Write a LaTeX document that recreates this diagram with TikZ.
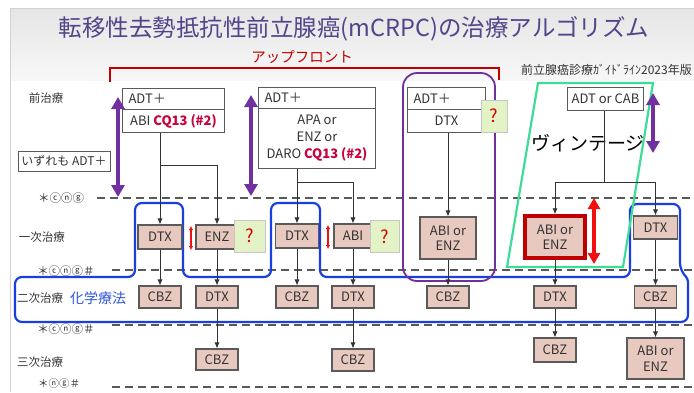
\documentclass[tikz,border=0pt]{standalone}
\usepackage{fontspec}
\setmainfont{Noto Sans CJK JP}
\newfontfamily\circfont{Noto Sans CJK JP}
\usetikzlibrary{arrows.meta,shapes.geometric}
\definecolor{titlec}{HTML}{54458A}
\definecolor{upred}{HTML}{C00000}
\definecolor{cqred}{HTML}{C8003C}
\definecolor{drugfill}{HTML}{E8C9C0}
\definecolor{boxline}{HTML}{5A5A5A}
\definecolor{purp}{HTML}{7030A0}
\definecolor{bluel}{HTML}{1A3FE0}
\definecolor{greenl}{HTML}{3DDC97}
\definecolor{qfill}{HTML}{E3F3C6}
\definecolor{txt}{HTML}{333333}
\definecolor{chemblue}{HTML}{2F55E0}
\definecolor{bigred}{HTML}{F01010}
\newcommand\fsz[2]{\fontsize{#1}{#2}\selectfont}
\begin{document}
\begin{tikzpicture}[x=1pt,y=-1pt,
  drug/.style={draw=boxline, fill=drugfill, line width=1.1pt, inner sep=0pt, minimum width=42pt, minimum height=22pt, font=\fsz{13}{15.5}, text=txt, align=center},
  prebox/.style={draw=boxline, fill=white, line width=1pt, inner sep=0pt, font=\fsz{13}{17}, text=txt, align=center},
  qbox/.style={draw=gray!45, fill=qfill, line width=0.6pt, minimum width=29pt, minimum height=32pt, inner sep=0pt, font=\fsz{18}{20}, text=red!85!black},
  arr/.style={-{Latex[length=6pt,width=5pt]}, line width=0.8pt, draw=black!80},
  conn/.style={line width=0.8pt, draw=black!80},
  dline/.style={draw=black!65, line width=2pt, dash pattern=on 8pt off 5pt},
  lbl/.style={font=\fsz{11.5}{13}, text=txt, inner sep=0pt},
  slbl/.style={font=\fsz{11.5}{13}, text=txt, inner sep=0pt},
  pdarrow/.style={{Triangle[length=12pt,width=13pt]}-{Triangle[length=12pt,width=13pt]}, line width=4.5pt, draw=purp},
  rdsmall/.style={{Latex[length=4pt,width=4.5pt]}-{Latex[length=4pt,width=4.5pt]}, line width=1.6pt, draw=bigred},
]
\useasboundingbox (0,0) rectangle (694,392);
% background
\fill[white] (0,0) rectangle (694,392);
\shade[top color=gray!20, bottom color=gray!6] (10,8) rectangle (694,80);
\draw[gray!35, line width=0.8pt] (10,392) -- (10,8) -- (694,8);

% title
\node[font=\fsz{23.5}{26}, text=titlec, inner sep=0pt] (title) at (354,29) {転移性去勢抵抗性前立腺癌(mCRPC)の治療アルゴリズム};
\node[font=\fsz{14.5}{16}, text=upred, inner sep=0pt] (upfront) at (302,57) {アップフロント};
\node[font=\fsz{12}{13}, text=txt, inner sep=0pt, anchor=east] (guide) at (692,70) {前立腺癌診療ｶﾞｲﾄﾞﾗｲﾝ2023年版};
\draw[upred, line width=2.5pt] (110,82) -- (110,68) -- (499,68) -- (499,80);

% dashed lines
\draw[dline] (97,198) -- (694,198);
\draw[dline] (112,270) -- (694,270);
\draw[dline] (112,325) -- (694,325);
\draw[dline] (112,387) -- (694,387);

% row labels
\node[lbl] (l0) at (46,98) {前治療};
\node[draw=boxline, fill=white, line width=0.8pt, minimum width=92pt, minimum height=20pt, inner sep=0pt, font=\fsz{12}{14}, text=txt] (allADT) at (64,161) {いずれも ADT＋};
\node[slbl] (s1) at (61,198) {＊{\circfont ⓒⓝⓖ}};
\node[lbl] (l1) at (42,237) {一次治療};
\node[slbl] (s2) at (66,271) {＊{\circfont ⓒⓝⓖ}＃};
\node[lbl] (l2) at (40,298) {二次治療};
\node[font=\fsz{14}{16}, text=chemblue, inner sep=0pt] (chem) at (98,298) {化学療法};
\node[slbl] (s3) at (66,329) {＊{\circfont ⓒⓝⓖ}＃};
\node[lbl] (l3) at (40,362) {三次治療};
\node[slbl, font=\fsz{10.5}{11}] (s4) at (59,384) {＊{\circfont ⓝⓖ}＃};

% blue outline
\draw[bluel, line width=2.2pt, rounded corners=7pt]
  (100,322) -- (15,322) -- (15,277) -- (135,277) -- (135,203) -- (183,203) -- (183,277)
  -- (271,277) -- (271,203) -- (320,203) -- (320,277) -- (630,277) -- (630,204) -- (680,204)
  -- (680,270) [rounded corners=3pt] -- (688,279) [rounded corners=7pt] -- (688,322) -- cycle;

% purple rounded box and green parallelogram
\draw[purp, line width=1.8pt, rounded corners=14pt] (403,73) rectangle (495,281);
\draw[greenl, line width=2.2pt] (538,83) -- (653,83) -- (623,267) -- (507,267) -- cycle;

% pre-treatment boxes
\node[prebox, text width=90pt, align=left, inner xsep=6pt, minimum height=21pt, anchor=north west] (p1a) at (122,88) {ADT＋};
\node[prebox, minimum width=102pt, minimum height=23pt, anchor=north west] (p1b) at (122,109) {ABI {\color{cqred}\bfseries CQ13 (\#2)}};
\node[prebox, text width=105pt, align=left, inner xsep=6pt, minimum height=21pt, anchor=north west] (p2a) at (258,87) {ADT＋};
\node[prebox, minimum width=117pt, minimum height=60pt, anchor=north west] (p2b) at (258,108) {APA or\\ENZ or\\DARO {\color{cqred}\bfseries CQ13 (\#2)}};
\node[prebox, text width=66pt, align=left, inner xsep=6pt, minimum height=22pt, anchor=north west] (p3a) at (407,87) {ADT＋};
\node[prebox, minimum width=78pt, minimum height=23pt, anchor=north west] (p3b) at (407,109) {DTX};
\node[prebox, minimum width=76pt, minimum height=23pt, anchor=north west] (p4) at (567,87) {ADT or CAB};
\node[qbox, minimum width=26pt] (q3) at (494,116) {?};

\node[font=\fsz{19}{21}, text=black, inner sep=0pt] (vint) at (588,143) {ヴィンテージ};

% row 1
\node[drug, minimum width=44pt, minimum height=24pt] (d11) at (160,237) {DTX};
\node[drug, minimum height=24pt] (e11) at (217,237) {ENZ};
\node[qbox, minimum width=31pt] (q1) at (250,236) {?};
\node[drug, minimum width=43pt, minimum height=24pt] (d12) at (297,236) {DTX};
\node[drug, minimum width=38pt, minimum height=24pt] (a12) at (353,236) {ABI};
\node[qbox] (q2) at (385,236.5) {?};
\node[drug, minimum width=56pt, minimum height=42pt] (ae13) at (448,238) {ABI or\\ENZ};
\node[drug, draw=upred, line width=3.5pt, minimum width=60pt, minimum height=42pt] (ae14) at (555,237) {ABI or\\ENZ};
\node[drug, minimum width=44pt, minimum height=23pt] (d15) at (655.5,227.5) {DTX};

% row 2
\node[drug] (c21) at (160,297) {CBZ};
\node[drug] (d21) at (217,297) {DTX};
\node[drug] (c22) at (297,297) {CBZ};
\node[drug] (d22) at (353,297) {DTX};
\node[drug] (c23) at (448,297) {CBZ};
\node[drug] (d24) at (555,297) {DTX};
\node[drug] (c25) at (655.5,297) {CBZ};

% row 3
\node[drug, minimum height=21pt] (c31) at (217,359.5) {CBZ};
\node[drug, minimum height=22pt] (c32) at (353,360) {CBZ};
\node[drug, minimum height=24pt] (c34) at (555,350) {CBZ};
\node[drug, minimum width=57pt, minimum height=41pt] (ae35) at (655.5,358.5) {ABI or\\ENZ};

% connectors
\coordinate (k1) at (160,165);
\coordinate (k2) at (297,182);
\coordinate (k4) at (604,182);
\draw[arr] (p1b.south -| d11.north) -- (d11.north);
\draw[arr] (k1) -| (e11.north);
\draw[arr] (p2b.south -| d12.north) -- (d12.north);
\draw[arr] (k2) -| (a12.north);
\draw[arr] (p3b.south -| ae13.north) -- (ae13.north);
\draw[conn] (p4.south -| k4) -- (k4);
\draw[arr] (k4) -| (ae14.north);
\draw[arr] (k4) -| (d15.north);

\draw[arr] (d11.south) -- (c21.north);
\draw[arr] (e11.south) -- (d21.north);
\draw[arr] (d12.south) -- (c22.north);
\draw[arr] (a12.south) -- (d22.north);
\draw[arr] (ae13.south) -- (c23.north);
\draw[arr] (ae14.south) -- (d24.north);
\draw[arr] (d15.south) -- (c25.north);

\draw[arr] (d21.south) -- (c31.north);
\draw[arr] (d22.south) -- (c32.north);
\draw[arr] (d24.south) -- (c34.north);
\draw[arr] (c25.south) -- (ae35.north);

% double arrows
\coordinate (pa1t) at (118,97);
\coordinate (pa1b) at (118,197);
\coordinate (pa2t) at (251,95);
\coordinate (pa2b) at (251,196);
\coordinate (pa4t) at (653,93);
\coordinate (pa4b) at (653,153);
\draw[pdarrow] (pa1t) -- (pa1b);
\draw[pdarrow] (pa2t) -- (pa2b);
\draw[pdarrow] (pa4t) -- (pa4b);
\coordinate (ra1t) at (191,226);
\coordinate (ra1b) at (191,250);
\coordinate (ra2t) at (328,225);
\coordinate (ra2b) at (328,249);
\draw[rdsmall] (ra1t) -- (ra1b);
\draw[rdsmall] (ra2t) -- (ra2b);
\coordinate (rbt) at (594,198);
\coordinate (rbb) at (594,264);
\draw[{Triangle[length=11pt,width=12pt]}-{Triangle[length=11pt,width=12pt]}, line width=4pt, draw=bigred] (rbt) -- (rbb);
\end{tikzpicture}
\end{document}
